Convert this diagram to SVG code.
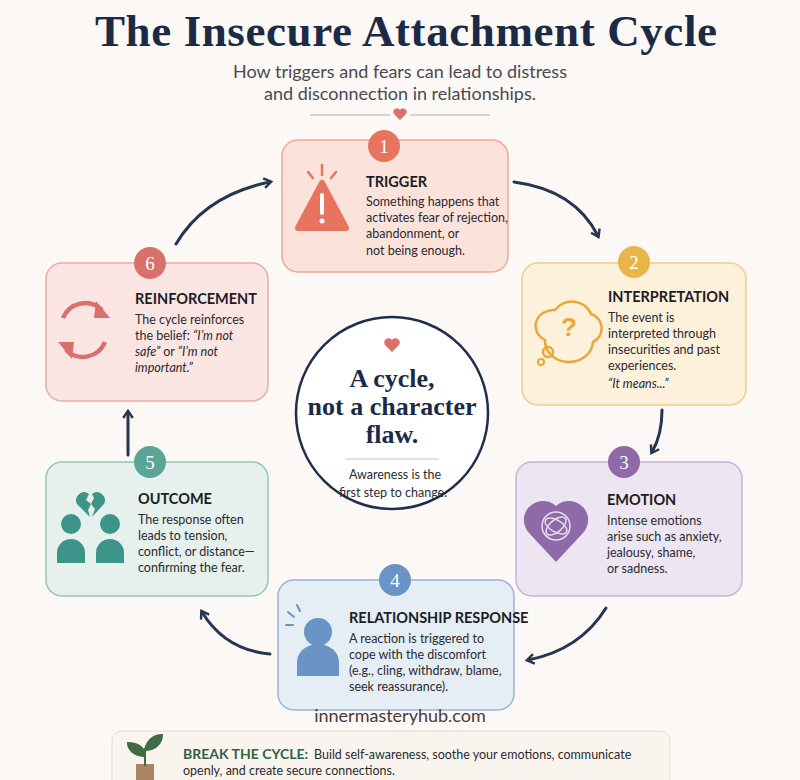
<svg xmlns="http://www.w3.org/2000/svg" width="800" height="780" viewBox="0 0 800 780">
<defs>
<style>
.t{font-family:"Lato","Liberation Sans",sans-serif}
.h{font-family:"Lato","Liberation Sans",sans-serif;font-weight:bold;font-size:14.5px;fill:#1c1c24}
.b{font-family:"Lato","Liberation Sans",sans-serif;font-size:12.5px;fill:#2a2a30}
.n{font-family:"Liberation Serif",serif;font-size:19px;fill:#fff;text-anchor:middle}
.c{fill:none;stroke:#263650;stroke-width:3;stroke-linecap:round}
</style>
<marker id="ah" viewBox="0 0 10 10" refX="6" refY="5" markerWidth="4" markerHeight="4" orient="auto"><path d="M1,1 L7,5 L1,9" fill="none" stroke="#263650" stroke-width="2"/></marker>
</defs>
<rect width="800" height="780" fill="#fbf8f5"/>
<text x="406" y="46" text-anchor="middle" font-family="Liberation Serif,serif" font-weight="bold" font-size="45" fill="#1b2b45" textLength="622">The Insecure Attachment Cycle</text>
<text x="400" y="78" text-anchor="middle" class="t" font-size="18" fill="#4a4a52">How triggers and fears can lead to distress</text>
<text x="400" y="100" text-anchor="middle" class="t" font-size="18" fill="#4a4a52">and disconnection in relationships.</text>
<line x1="310" y1="115" x2="390" y2="115" stroke="#b8b0a8"/><line x1="410" y1="115" x2="490" y2="115" stroke="#b8b0a8"/>
<path d="M400,120 l-6,-6 a3.5,3.5 0 0 1 6,-4 a3.5,3.5 0 0 1 6,4 z" fill="#d9706c"/>
<g id="connectors">
<path class="c" marker-end="url(#ah)" d="M514,182 Q575,190 598,236"/>
<path class="c" marker-end="url(#ah)" d="M662,410 Q662,435 652,452"/>
<path class="c" marker-end="url(#ah)" d="M606,608 Q580,650 528,660"/>
<path class="c" marker-end="url(#ah)" d="M270,654 Q225,650 202,612"/>
<path class="c" marker-end="url(#ah)" d="M128,455 L128,412"/>
<path class="c" marker-end="url(#ah)" d="M176,244 Q205,195 270,182"/>
</g>
<g id="n1">
<rect x="282" y="140" width="226" height="132" rx="16" fill="#fbe3dc" stroke="#f0a898" stroke-width="1.5"/>
<circle cx="384" cy="146" r="16" fill="#e8735f"/><text class="n" x="384" y="153">1</text>
<path d="M322,183 L346,228 L298,228 Z" fill="#e8735f" stroke="#e8735f" stroke-width="6" stroke-linejoin="round"/>
<rect x="320" y="193" width="4" height="22" rx="2" fill="#fff"/><circle cx="322" cy="221" r="2.5" fill="#fff"/>
<path d="M322,165 v10 M308,172 l5,6 M336,172 l-5,6" stroke="#e8735f" stroke-width="2.5" stroke-linecap="round"/>
<text class="h" x="366" y="187">TRIGGER</text>
<text class="b" x="366" y="206" font-size="12">Something happens that</text>
<text class="b" x="366" y="222" font-size="12">activates fear of rejection,</text>
<text class="b" x="366" y="238" font-size="12">abandonment, or</text>
<text class="b" x="366" y="255" font-size="12">not being enough.</text>
</g>
<g id="n2">
<rect x="522" y="263" width="224" height="142" rx="16" fill="#fdf1dc" stroke="#f0cc88" stroke-width="1.5"/>
<circle cx="634" cy="262" r="16" fill="#e9b548"/><text class="n" x="634" y="269">2</text>
<path d="M545,340 a18,16 0 0 1 10,-30 a20,18 0 0 1 36,4 a15,15 0 0 1 2,28 a16,14 0 0 1 -48,-2 z" fill="#fdf1dc" stroke="#e9a838" stroke-width="2.5"/>
<circle cx="548" cy="352" r="5" fill="none" stroke="#e9a838" stroke-width="2.5"/><circle cx="541" cy="362" r="3" fill="none" stroke="#e9a838" stroke-width="2"/>
<text x="569" y="336" text-anchor="middle" font-family="Liberation Sans,sans-serif" font-weight="bold" font-size="26" fill="#e9a838">?</text>
<text class="h" x="608" y="302">INTERPRETATION</text>
<text class="b" x="608" y="322">The event is</text>
<text class="b" x="608" y="338">interpreted through</text>
<text class="b" x="608" y="354">insecurities and past</text>
<text class="b" x="608" y="370">experiences.</text>
<text class="b" x="608" y="388" font-style="italic">“It means...”</text>
</g>
<g id="n3">
<rect x="516" y="462" width="226" height="134" rx="16" fill="#ede5f2" stroke="#c8b2d8" stroke-width="1.5"/>
<circle cx="624" cy="462" r="16" fill="#8e6aa8"/><text class="n" x="624" y="469">3</text>
<path d="M556,562 L530,534 a16,16 0 0 1 26,-28 a16,16 0 0 1 26,28 z" fill="#8e6aa8"/>
<g fill="none" stroke="#e6dcef" stroke-width="1.5"><circle cx="556" cy="526" r="14"/><ellipse cx="556" cy="526" rx="12" ry="6" transform="rotate(30 556 526)"/><ellipse cx="556" cy="526" rx="12" ry="6" transform="rotate(-40 556 526)"/></g>
<text class="h" x="607" y="505">EMOTION</text>
<text class="b" x="607" y="525">Intense emotions</text>
<text class="b" x="607" y="541">arise such as anxiety,</text>
<text class="b" x="607" y="557">jealousy, shame,</text>
<text class="b" x="607" y="573">or sadness.</text>
</g>
<g id="n4">
<rect x="278" y="580" width="236" height="130" rx="16" fill="#e5edf5" stroke="#9bb4d4" stroke-width="1.5"/>
<circle cx="395" cy="580" r="16" fill="#6a94c6"/><text class="n" x="395" y="587">4</text>
<circle cx="318" cy="632" r="14" fill="#6a94c6"/><path d="M297,676 v-14 a21,18 0 0 1 42,0 v14 z" fill="#6a94c6"/>
<path d="M288,612 l6,5 M286,625 h7 M297,605 l3,6" stroke="#6a94c6" stroke-width="2" stroke-linecap="round"/>
<text class="h" x="349" y="623">RELATIONSHIP RESPONSE</text>
<text class="b" x="349" y="643">A reaction is triggered to</text>
<text class="b" x="349" y="659">cope with the discomfort</text>
<text class="b" x="349" y="675">(e.g., cling, withdraw, blame,</text>
<text class="b" x="349" y="691">seek reassurance).</text>
</g>
<g id="n5">
<rect x="46" y="462" width="222" height="134" rx="16" fill="#e6f0ed" stroke="#95c5b8" stroke-width="1.5"/>
<circle cx="150" cy="462" r="16" fill="#5aa596"/><text class="n" x="150" y="469">5</text>
<path d="M90,517 L77,504 a8,8 0 0 1 12,-10 l-3,6 5,4 -3,6 z M92,517 l3,-8 -4,-5 3,-6 -2,-4 a8,8 0 0 1 12,10 z" fill="#3d958a"/>
<circle cx="71" cy="524" r="10" fill="#3d958a"/><path d="M57,563 v-10 a14,14 0 0 1 28,0 v10 z" fill="#3d958a"/>
<circle cx="110" cy="524" r="10" fill="#3d958a"/><path d="M96,563 v-10 a14,14 0 0 1 28,0 v10 z" fill="#3d958a"/>
<text class="h" x="138" y="504">OUTCOME</text>
<text class="b" x="138" y="524">The response often</text>
<text class="b" x="138" y="540">leads to tension,</text>
<text class="b" x="138" y="556">conflict, or distance—</text>
<text class="b" x="138" y="572">confirming the fear.</text>
</g>
<g id="n6">
<rect x="46" y="263" width="222" height="138" rx="16" fill="#fbe5e3" stroke="#eaaaa8" stroke-width="1.5"/>
<circle cx="150" cy="263" r="16" fill="#d9706c"/><text class="n" x="150" y="270">6</text>
<g fill="none" stroke="#d9706c" stroke-width="4.5"><path d="M63,318 A24,24 0 0 1 102,310"/><path d="M105,342 A24,24 0 0 1 66,350"/></g>
<path d="M96,301 L110,318 L94,318 Z M72,359 L58,342 L74,342 Z" fill="#d9706c"/>
<text class="h" x="135" y="304">REINFORCEMENT</text>
<text class="b" x="135" y="324">The cycle reinforces</text>
<text class="b" x="135" y="340">the belief: <tspan font-style="italic">“I’m not</tspan></text>
<text class="b" x="135" y="356" font-style="italic">safe” <tspan font-style="normal">or</tspan> “I’m not</text>
<text class="b" x="135" y="372" font-style="italic">important.”</text>
</g>
<g id="center">
<circle cx="392" cy="413" r="96" fill="#fff" stroke="#1f2f4a" stroke-width="2.5"/>
<path d="M392,352 l-7,-7 a4,4 0 0 1 7,-5 a4,4 0 0 1 7,5 z" fill="#d9706c"/>
<text x="392" y="387" text-anchor="middle" font-family="Liberation Serif,serif" font-weight="bold" font-size="26" fill="#1b2b45">A cycle,</text>
<text x="392" y="415" text-anchor="middle" font-family="Liberation Serif,serif" font-weight="bold" font-size="26" fill="#1b2b45">not a character</text>
<text x="392" y="443" text-anchor="middle" font-family="Liberation Serif,serif" font-weight="bold" font-size="26" fill="#1b2b45">flaw.</text>
<line x1="345" y1="459" x2="439" y2="459" stroke="#c8c4c0"/>
<text x="395" y="479" text-anchor="middle" class="b" font-size="13">Awareness is the</text>
<text x="393" y="497" text-anchor="middle" class="b" font-size="13">first step to change.</text>
</g>
<text x="400" y="722" text-anchor="middle" class="t" font-size="18" fill="#4a3a3a">innermasteryhub.com</text>
<g id="footer">
<rect x="112" y="731" width="558" height="60" rx="10" fill="#f9f5ee" stroke="#e2ddd2"/>
<rect x="136" y="764" width="18" height="20" fill="#a88462"/>
<path d="M145,766 V748 M145,756 C135,756 128,750 128,743 C138,743 145,748 145,756 M145,750 C147,740 154,735 162,735 C162,744 154,750 145,750" fill="#3f6b45" stroke="#3f6b45" stroke-width="2"/>
<text x="183" y="759" class="t" font-size="14" font-weight="bold" fill="#2f6247">BREAK THE CYCLE:</text>
<text x="314" y="759" class="b" font-size="12.5">Build self-awareness, soothe your emotions, communicate</text>
<text x="183" y="775" class="b">openly, and create secure connections.</text>
</g>
</svg>
